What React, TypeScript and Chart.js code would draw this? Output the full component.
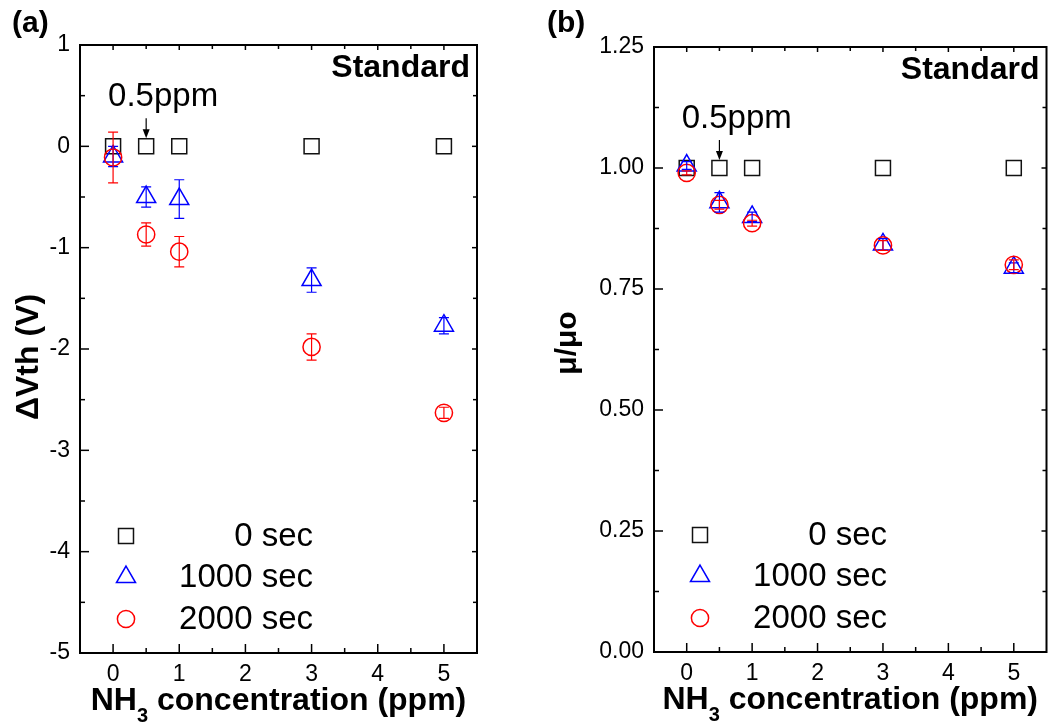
import React, { useEffect, useRef } from 'react';
import { Chart, registerables } from 'chart.js';

Chart.register(...registerables);

// ---------- data ----------
const concentrations = [0, 0.5, 1, 3, 5];
const seriesLabels = ['0 sec', '1000 sec', '2000 sec'];

const dVth0 = [0, 0, 0, 0, 0];
const dVth0Err = [0, 0, 0, 0, 0];
const dVth1000 = [-0.1, -0.5, -0.52, -1.32, -1.77];
const dVth1000Err = [0.1, 0.1, 0.19, 0.12, 0.08];
const dVth2000 = [-0.11, -0.87, -1.04, -1.98, -2.63];
const dVth2000Err = [0.25, 0.115, 0.15, 0.13, 0.055];

const mu0 = [1, 1, 1, 1, 1];
const mu0Err = [0, 0, 0, 0, 0];
const mu1000 = [1.005, 0.929, 0.899, 0.842, 0.794];
const mu1000Err = [0.008, 0.02, 0.01, 0.012, 0.01];
const mu2000 = [0.99, 0.924, 0.886, 0.84, 0.8];
const mu2000Err = [0.004, 0.009, 0.006, 0.01, 0.01];

const xTickValues = [0, 1, 2, 3, 4, 5];
const xTickLabels = ['0', '1', '2', '3', '4', '5'];
const dVthTickValues = [-5, -4, -3, -2, -1, 0, 1];
const dVthTickLabels = ['-5', '-4', '-3', '-2', '-1', '0', '1'];
const muTickValues = [0, 0.25, 0.5, 0.75, 1, 1.25];
const muTickLabels = ['0.00', '0.25', '0.50', '0.75', '1.00', '1.25'];

const xTitleMain = 'NH';
const xTitleSub = '3';
const xTitleRest = ' concentration (ppm)';
const dVthTitle = 'ΔVth (V)';
const muTitle = 'μ/μo';
const annotationText = '0.5ppm';
const annotationAt = 0.5;
const standardText = 'Standard';

// ---------- styles ----------
const FONT = "'Liberation Sans', Arial, Helvetica, sans-serif";
const COLORS = ['#111111', '#0000ff', '#ff0000'];
const STYLES = ['rect', 'triangle', 'circle'];
const RADII = [10.6, 11, 8.6];

type PanelCfg = {
  panelLabel: string;
  series: number[][];
  errors: number[][];
  yMin: number;
  yMax: number;
  yTicks: number[];
  yTickLabels: string[];
  yMinorStep: number;
  yTitle: string;
  yTitleX: number;
  yTitleY: number;
  yTitleSize: number;
  annotationY: number;
  padding: { left: number; right: number; top: number; bottom: number };
  yWidth: number;
  xHeight: number;
  panelLabelX: number;
};

function makeChart(canvas: HTMLCanvasElement, cfg: PanelCfg) {
  const framePlugin = {
    id: 'frame',
    afterDraw(chart: any) {
      const { ctx, chartArea: a, scales } = chart;
      const x = scales.x;
      const y = scales.y;
      ctx.save();
      ctx.strokeStyle = '#000';
      ctx.lineWidth = 1.5;
      const line = (x1: number, y1: number, x2: number, y2: number) => {
        ctx.beginPath();
        ctx.moveTo(x1, y1);
        ctx.lineTo(x2, y2);
        ctx.stroke();
      };
      // x ticks (major + minor)
      for (let v = -0.5; v <= 5.5001; v += 0.5) {
        const major = Math.abs(v - Math.round(v)) < 1e-6;
        const px = x.getPixelForValue(v);
        if (px <= a.left + 1 || px >= a.right - 1) continue;
        line(px, a.bottom, px, a.bottom - (major ? 9 : 5));
        line(px, a.top, px, a.top + (major ? 5 : 4));
      }
      // y ticks
      const step = cfg.yMinorStep;
      const n = Math.round((cfg.yMax - cfg.yMin) / step);
      for (let i = 0; i <= n; i++) {
        const v = cfg.yMin + i * step;
        const major = i % 2 === 0;
        const py = y.getPixelForValue(v);
        if (py <= a.top + 1 || py >= a.bottom - 1) continue;
        line(a.left, py, a.left + (major ? 9 : 5), py);
        line(a.right, py, a.right - (major ? 5 : 4), py);
      }
      ctx.lineWidth = 2;
      ctx.strokeRect(a.left, a.top, a.right - a.left, a.bottom - a.top);

      // x title with subscript
      ctx.fillStyle = '#000';
      const big = `bold 32px ${FONT}`;
      const small = `bold 20px ${FONT}`;
      ctx.font = big;
      const w1 = ctx.measureText(xTitleMain).width;
      const w3 = ctx.measureText(xTitleRest).width;
      ctx.font = small;
      const w2 = ctx.measureText(xTitleSub).width;
      const x0 = (a.left + a.right) / 2 - (w1 + w2 + w3) / 2;
      const base = a.bottom + 57;
      ctx.textAlign = 'left';
      ctx.textBaseline = 'alphabetic';
      ctx.font = big;
      ctx.fillText(xTitleMain, x0, base);
      ctx.font = small;
      ctx.fillText(xTitleSub, x0 + w1, base + 12);
      ctx.font = big;
      ctx.fillText(xTitleRest, x0 + w1 + w2, base);

      // y title rotated
      ctx.save();
      ctx.translate(cfg.yTitleX, cfg.yTitleY);
      ctx.rotate(-Math.PI / 2);
      ctx.font = `bold ${cfg.yTitleSize}px ${FONT}`;
      ctx.textAlign = 'center';
      ctx.textBaseline = 'middle';
      ctx.fillText(cfg.yTitle, 0, 0);
      ctx.restore();

      // panel label
      ctx.font = `bold 30px ${FONT}`;
      ctx.textAlign = 'left';
      ctx.textBaseline = 'alphabetic';
      ctx.fillText(cfg.panelLabel, cfg.panelLabelX, 32);

      // Standard
      ctx.font = `bold 32px ${FONT}`;
      ctx.textAlign = 'right';
      ctx.fillText(standardText, a.right - 7, a.top + 32);

      // annotation 0.5ppm + arrow
      const ax = x.getPixelForValue(annotationAt);
      const ay = y.getPixelForValue(cfg.annotationY);
      const tip = ay - 8;
      const tail = tip - 20;
      ctx.lineWidth = 1.2;
      line(ax, tail, ax, tip - 6);
      ctx.beginPath();
      ctx.moveTo(ax, tip);
      ctx.lineTo(ax - 3.5, tip - 9);
      ctx.lineTo(ax + 3.5, tip - 9);
      ctx.closePath();
      ctx.fill();
      ctx.font = `33px ${FONT}`;
      ctx.textAlign = 'left';
      ctx.fillText(annotationText, x.getPixelForValue(0) - 5, tail - 12);

      // legend
      const rows = [a.bottom - 117, a.bottom - 76, a.bottom - 34];
      const mx = a.left + 46;
      const tx = a.left + 233;
      chart.data.datasets.forEach((ds: any, i: number) => {
        const cy = rows[i];
        ctx.strokeStyle = COLORS[i];
        ctx.lineWidth = 1.5;
        const r = RADII[i];
        ctx.beginPath();
        if (STYLES[i] === 'rect') {
          const h = r * Math.SQRT1_2;
          ctx.rect(mx - h, cy - h, 2 * h, 2 * h);
        } else if (STYLES[i] === 'triangle') {
          ctx.moveTo(mx, cy - r);
          ctx.lineTo(mx + r * Math.sin((2 * Math.PI) / 3), cy + r / 2);
          ctx.lineTo(mx - r * Math.sin((2 * Math.PI) / 3), cy + r / 2);
          ctx.closePath();
        } else {
          ctx.arc(mx, cy, r, 0, Math.PI * 2);
        }
        ctx.stroke();
        ctx.fillStyle = '#000';
        ctx.font = `33px ${FONT}`;
        ctx.textAlign = 'right';
        ctx.textBaseline = 'middle';
        ctx.fillText(ds.label, tx, cy + 1);
      });
      ctx.restore();
    },
  };

  const errorPlugin = {
    id: 'errbars',
    afterDatasetsDraw(chart: any) {
      const { ctx, scales } = chart;
      const y = scales.y;
      ctx.save();
      chart.data.datasets.forEach((ds: any, i: number) => {
        const meta = chart.getDatasetMeta(i);
        ctx.strokeStyle = COLORS[i];
        ctx.lineWidth = 1.2;
        ds.data.forEach((p: any, j: number) => {
          const e = ds.errors[j];
          if (!e) return;
          const px = meta.data[j].x;
          const top = y.getPixelForValue(p.y + e);
          const bot = y.getPixelForValue(p.y - e);
          ctx.beginPath();
          ctx.moveTo(px, top);
          ctx.lineTo(px, bot);
          ctx.moveTo(px - 5, top);
          ctx.lineTo(px + 5, top);
          ctx.moveTo(px - 5, bot);
          ctx.lineTo(px + 5, bot);
          ctx.stroke();
        });
      });
      ctx.restore();
    },
  };

  const tickFont = { family: FONT, size: 23 };

  return new Chart(canvas, {
    type: 'scatter',
    data: {
      datasets: cfg.series.map((vals, i) => ({
        label: seriesLabels[i],
        data: concentrations.map((c, j) => ({ x: c, y: vals[j] })),
        errors: cfg.errors[i],
        pointStyle: STYLES[i],
        pointRadius: RADII[i],
        pointHoverRadius: RADII[i],
        borderColor: COLORS[i],
        backgroundColor: 'rgba(0,0,0,0)',
        pointBorderWidth: 1.5,
        showLine: false,
        order: 3 - i,
      })) as any,
    },
    options: {
      animation: false,
      responsive: false,
      events: [],
      layout: { padding: cfg.padding },
      plugins: { legend: { display: false }, tooltip: { enabled: false } },
      scales: {
        x: {
          type: 'linear',
          min: -0.5,
          max: 5.5,
          grid: { display: false, drawTicks: false },
          border: { display: false },
          afterBuildTicks: (s: any) => {
            s.ticks = xTickValues.map((v) => ({ value: v }));
          },
          afterFit: (s: any) => {
            s.height = cfg.xHeight;
          },
          ticks: {
            autoSkip: false,
            maxRotation: 0,
            minRotation: 0,
            padding: 8,
            color: '#000',
            font: tickFont,
            callback: (_v: any, idx: number) => xTickLabels[idx],
          },
        },
        y: {
          type: 'linear',
          min: cfg.yMin,
          max: cfg.yMax,
          grid: { display: false, drawTicks: false },
          border: { display: false },
          afterBuildTicks: (s: any) => {
            s.ticks = cfg.yTicks.map((v) => ({ value: v }));
          },
          afterFit: (s: any) => {
            s.width = cfg.yWidth;
          },
          ticks: {
            autoSkip: false,
            padding: 10,
            color: '#000',
            font: tickFont,
            callback: (_v: any, idx: number) => cfg.yTickLabels[idx],
          },
        },
      },
    } as any,
    plugins: [errorPlugin, framePlugin],
  });
}

const leftCfg: PanelCfg = {
  panelLabel: '(a)',
  series: [dVth0, dVth1000, dVth2000],
  errors: [dVth0Err, dVth1000Err, dVth2000Err],
  yMin: -5,
  yMax: 1,
  yTicks: dVthTickValues,
  yTickLabels: dVthTickLabels,
  yMinorStep: 0.5,
  yTitle: dVthTitle,
  yTitleX: 29,
  yTitleY: 357,
  yTitleSize: 32,
  annotationY: 0,
  padding: { left: 0, right: 53, top: 45, bottom: 0 },
  yWidth: 80,
  xHeight: 73,
  panelLabelX: 12,
};

const rightCfg: PanelCfg = {
  panelLabel: '(b)',
  series: [mu0, mu1000, mu2000],
  errors: [mu0Err, mu1000Err, mu2000Err],
  yMin: 0,
  yMax: 1.25,
  yTicks: muTickValues,
  yTickLabels: muTickLabels,
  yMinorStep: 0.125,
  yTitle: muTitle,
  yTitleX: 38,
  yTitleY: 343,
  yTitleSize: 30,
  annotationY: 1,
  padding: { left: 0, right: 7, top: 47, bottom: 0 },
  yWidth: 124,
  xHeight: 74,
  panelLabelX: 17,
};

export default function App() {
  const leftRef = useRef<HTMLCanvasElement | null>(null);
  const rightRef = useRef<HTMLCanvasElement | null>(null);

  useEffect(() => {
    const c1 = makeChart(leftRef.current as HTMLCanvasElement, leftCfg);
    const c2 = makeChart(rightRef.current as HTMLCanvasElement, rightCfg);
    return () => {
      c1.destroy();
      c2.destroy();
    };
  }, []);

  return (
    <div
      style={{
        position: 'fixed',
        left: 0,
        top: 0,
        width: 1059,
        height: 726,
        background: '#fff',
        overflow: 'hidden',
      }}
    >
      <canvas
        ref={leftRef}
        width={530}
        height={726}
        style={{ position: 'absolute', left: 0, top: 0, width: 530, height: 726, display: 'block' }}
      />
      <canvas
        ref={rightRef}
        width={529}
        height={726}
        style={{ position: 'absolute', left: 530, top: 0, width: 529, height: 726, display: 'block' }}
      />
    </div>
  );
}
